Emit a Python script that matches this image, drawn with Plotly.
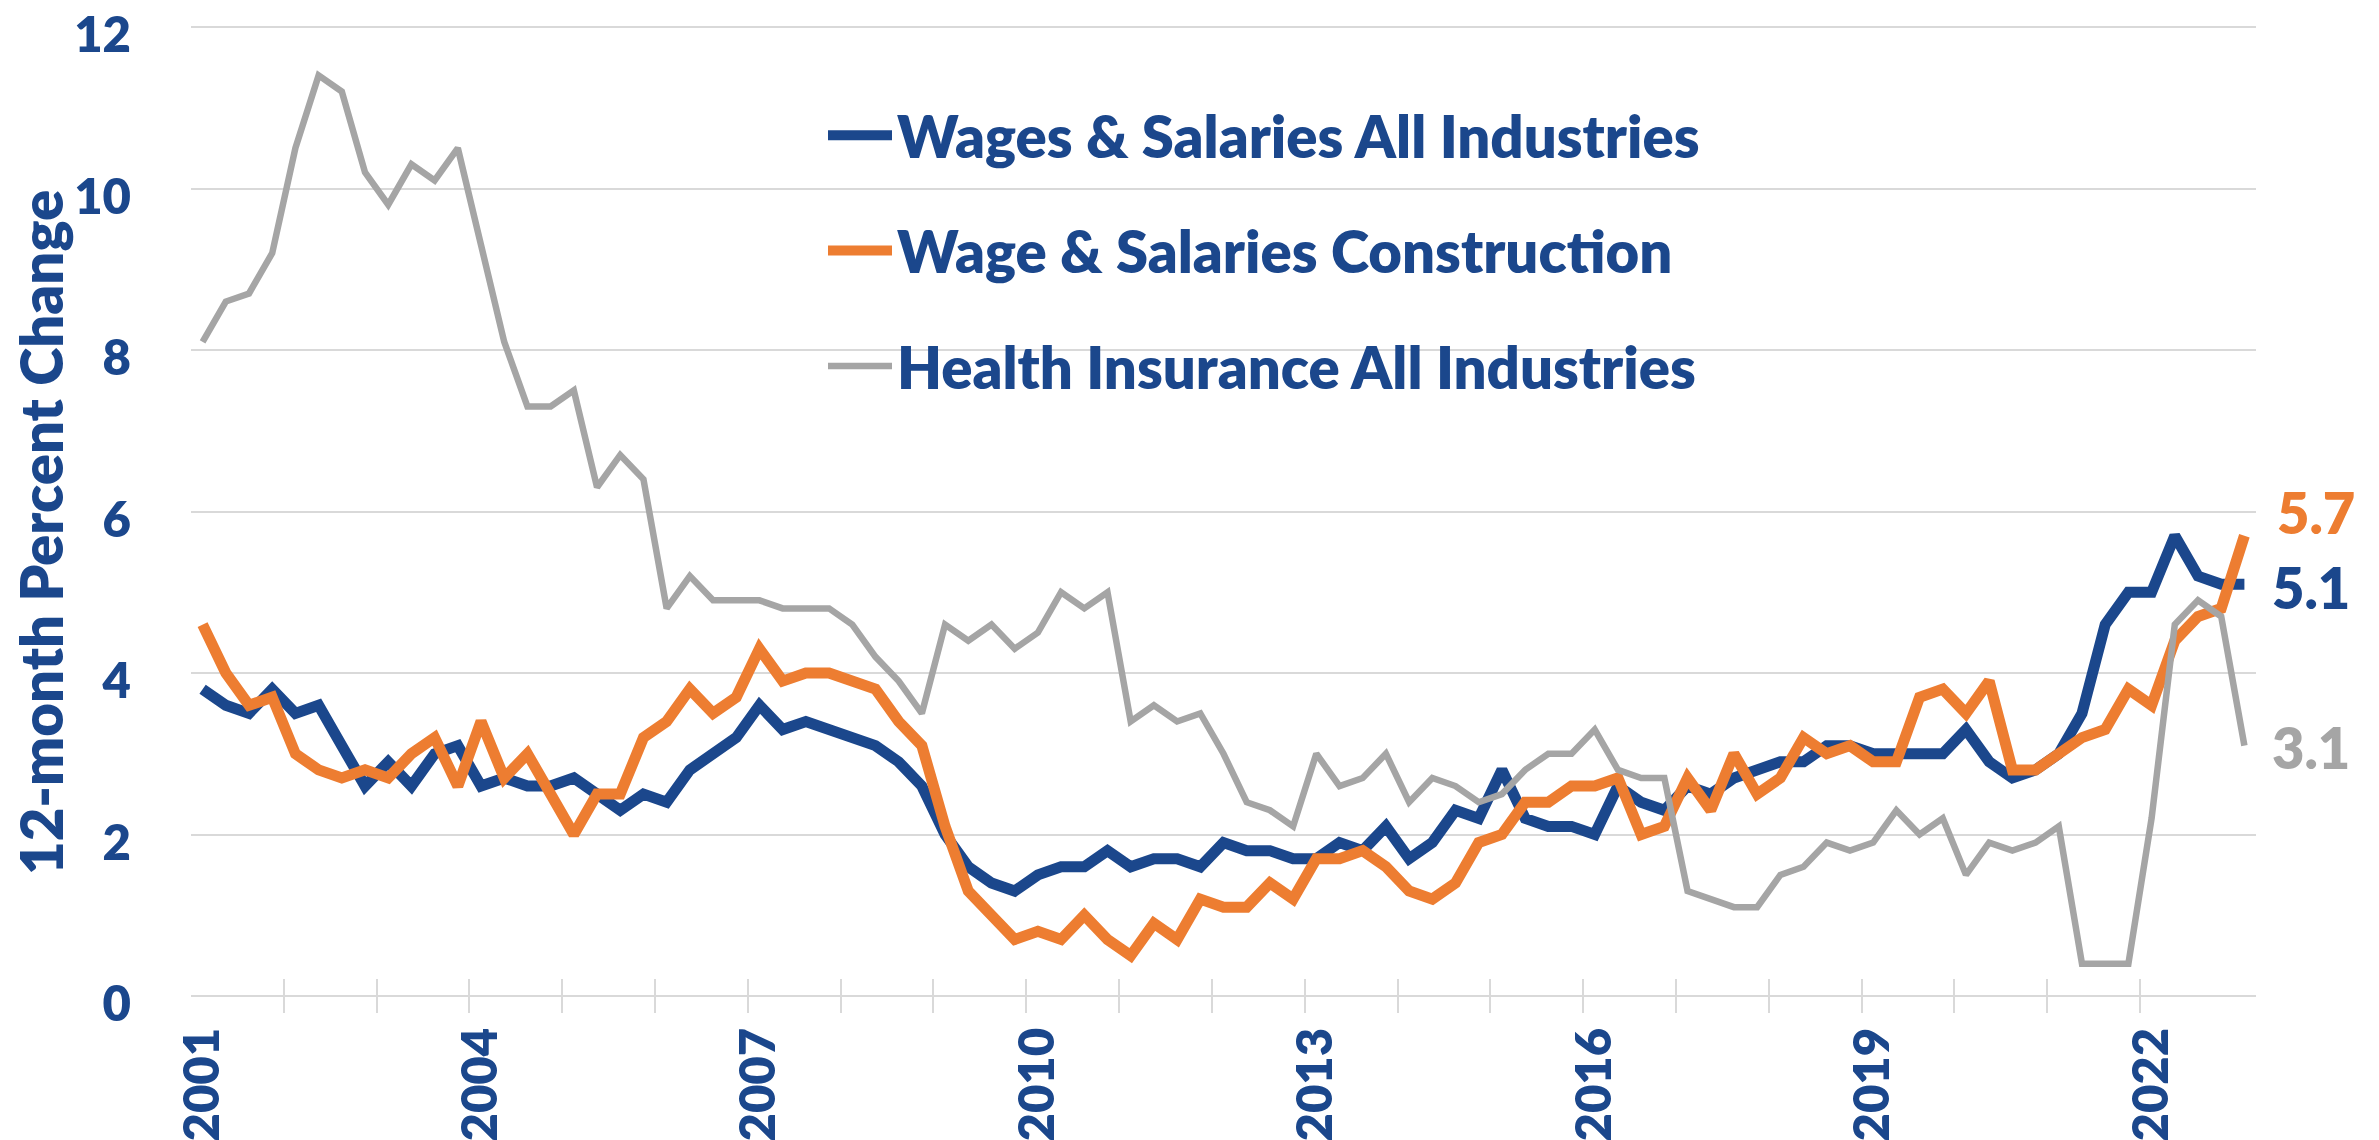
import plotly.graph_objects as go

# Quarterly, 2001 Q1 .. 2023 Q1 (89 quarters)
quarters = [f"{y} Q{q}" for y in range(2001, 2024) for q in range(1, 5)][:89]
idx = list(range(len(quarters)))

wages_all = [3.8, 3.6, 3.5, 3.8, 3.5, 3.6, 3.1, 2.6, 2.9, 2.6, 3.0, 3.1, 2.6, 2.7, 2.6, 2.6,
             2.7, 2.5, 2.3, 2.5, 2.4, 2.8, 3.0, 3.2, 3.6, 3.3,
             3.4, 3.3, 3.2, 3.1, 2.9, 2.6, 2.0, 1.6, 1.4, 1.3, 1.5, 1.6, 1.6, 1.8, 1.6, 1.7,
             1.7, 1.6, 1.9, 1.8, 1.8, 1.7, 1.7, 1.9, 1.8, 2.1, 1.7, 1.9, 2.3, 2.2, 2.8, 2.2, 2.1,
             2.1, 2.0, 2.6, 2.4, 2.3, 2.6, 2.5, 2.7, 2.8, 2.9, 2.9, 3.1, 3.1, 3.0, 3.0, 3.0,
             3.0, 3.3, 2.9, 2.7, 2.8, 3.0, 3.5, 4.6, 5.0, 5.0, 5.7, 5.2, 5.1, 5.1]

wages_constr = [4.6, 4.0, 3.6, 3.7, 3.0, 2.8, 2.7, 2.8, 2.7, 3.0, 3.2, 2.6, 3.4, 2.7, 3.0, 2.5,
                2.0, 2.5, 2.5, 3.2, 3.4, 3.8, 3.5, 3.7, 4.3, 3.9,
                4.0, 4.0, 3.9, 3.8, 3.4, 3.1, 2.1, 1.3, 1.0, 0.7, 0.8, 0.7, 1.0, 0.7, 0.5, 0.9,
                0.7, 1.2, 1.1, 1.1, 1.4, 1.2, 1.7, 1.7, 1.8, 1.6, 1.3, 1.2, 1.4, 1.9, 2.0, 2.4, 2.4,
                2.6, 2.6, 2.7, 2.0, 2.1, 2.7, 2.3, 3.0, 2.5, 2.7, 3.2, 3.0, 3.1, 2.9, 2.9, 3.7,
                3.8, 3.5, 3.9, 2.8, 2.8, 3.0, 3.2, 3.3, 3.8, 3.6, 4.4, 4.7, 4.8, 5.7]

health_all = [8.1, 8.6, 8.7, 9.2, 10.5, 11.4, 11.2, 10.2, 9.8, 10.3, 10.1, 10.5, 9.3, 8.1, 7.3, 7.3,
              7.5, 6.3, 6.7, 6.4, 4.8, 5.2, 4.9, 4.9, 4.9, 4.8,
              4.8, 4.8, 4.6, 4.2, 3.9, 3.5, 4.6, 4.4, 4.6, 4.3, 4.5, 5.0, 4.8, 5.0, 3.4, 3.6,
              3.4, 3.5, 3.0, 2.4, 2.3, 2.1, 3.0, 2.6, 2.7, 3.0, 2.4, 2.7, 2.6, 2.4, 2.5, 2.8, 3.0,
              3.0, 3.3, 2.8, 2.7, 2.7, 1.3, 1.2, 1.1, 1.1, 1.5, 1.6, 1.9, 1.8, 1.9, 2.3, 2.0,
              2.2, 1.5, 1.9, 1.8, 1.9, 2.1, 0.4, 0.4, 0.4, 2.2, 4.6, 4.9, 4.7, 3.1]

year_labels = ["2001", "2004", "2007", "2010", "2013", "2016", "2019", "2022"]
y_ticks = [0, 2, 4, 6, 8, 10, 12]

BLUE = "#1B478C"
ORANGE = "#ED7D31"
GRAY = "#A5A5A5"
GRID = "#D9D9D9"
FONT = "Lato"
WT = 800

label_pos = [quarters.index(f"{y} Q1") for y in year_labels]
boundaries = [i - 0.5 for i in idx if i % 4 == 0 and i < len(idx) - 1]

fig = go.Figure()
series = [
    ("Wages & Salaries All Industries", wages_all, BLUE, 11),
    ("Wage & Salaries Construction", wages_constr, ORANGE, 11),
    ("Health Insurance All Industries", health_all, GRAY, 6.5),
]
for name, vals, col, w in series:
    fig.add_trace(go.Scatter(x=idx, y=vals, mode="lines", name=name, legendgroup=name,
                             line=dict(color=col, width=w), text=quarters,
                             hovertemplate="%{text}: %{y}<extra>" + name + "</extra>"))

# empty trace on overlay axis carrying the boundary tick marks
fig.add_trace(go.Scatter(x=[], y=[], xaxis="x2", showlegend=False, hoverinfo="skip"))

W, H = 2379, 1140
ml, mr, mt, mb = 191, 123, 20, 127
plot_w = W - ml - mr
plot_h = H - mt - mb
px_per_unit = 80.75
zero_px = H - mb - 17
ymin = -(H - mb - zero_px) / px_per_unit
ymax = 12 + (zero_px - 12 * px_per_unit - mt) / px_per_unit

xr = [-0.5, len(idx) - 0.5]
item_w = 64

fig.update_layout(
    width=W, height=H,
    margin=dict(l=ml, r=mr, t=mt, b=mb, autoexpand=False),
    paper_bgcolor="white", plot_bgcolor="white",
    font=dict(family=FONT, color=BLUE, weight=WT),
    xaxis=dict(range=xr, tickmode="array", tickvals=label_pos, ticktext=year_labels,
               tickangle=-90, ticks="", showgrid=False, zeroline=False, showline=False,
               automargin=False, ticklabeloverflow="allow",
               tickfont=dict(family=FONT, size=49, color=BLUE, weight=WT),
               ticklabelstandoff=4),
    xaxis2=dict(range=xr, overlaying="x", anchor="y", side="bottom", tickmode="array",
                tickvals=boundaries, ticks="inside", ticklen=34, tickwidth=2, tickcolor=GRID,
                showticklabels=False, showgrid=False, zeroline=False, showline=False,
                automargin=False),
    yaxis=dict(range=[ymin, ymax], tickmode="array", tickvals=y_ticks, ticks="",
               showgrid=True, gridcolor=GRID, gridwidth=2, zeroline=False, showline=False,
               automargin=False, ticklabeloverflow="allow", ticklabelshift=8,
               tickfont=dict(family=FONT, size=49, color=BLUE, weight=WT),
               ticklabelstandoff=59),
    legend=dict(x=(897 - item_w - 10 - ml) / plot_w, xanchor="left",
                y=1 - (91 - mt) / plot_h, yanchor="top",
                traceorder="grouped", tracegroupgap=37, itemwidth=item_w,
                bgcolor="rgba(0,0,0,0)",
                font=dict(family=FONT, size=58, color=BLUE, weight=WT)),
    showlegend=True,
)

fig.add_annotation(text="12-month Percent Change", textangle=-90, xref="paper", yref="paper",
                   x=(40 - ml) / plot_w, y=1 - (533 - mt) / plot_h,
                   xanchor="center", yanchor="middle", showarrow=False,
                   font=dict(family=FONT, size=58, color=BLUE, weight=WT))

end_labels = [(wages_constr, ORANGE, 31, 23), (wages_all, BLUE, 26, -3), (health_all, GRAY, 26, -2)]
for vals, col, xs, ys in end_labels:
    fig.add_annotation(text=f"{vals[-1]:.1f}", x=idx[-1], y=vals[-1], xref="x", yref="y",
                       xanchor="left", yanchor="middle", xshift=xs, yshift=ys, showarrow=False,
                       font=dict(family=FONT, size=56, color=col, weight=WT))

fig.write_html("out.html", config={"displayModeBar": False},
               post_script="document.body.style.margin='0';document.body.style.overflow='hidden';")
